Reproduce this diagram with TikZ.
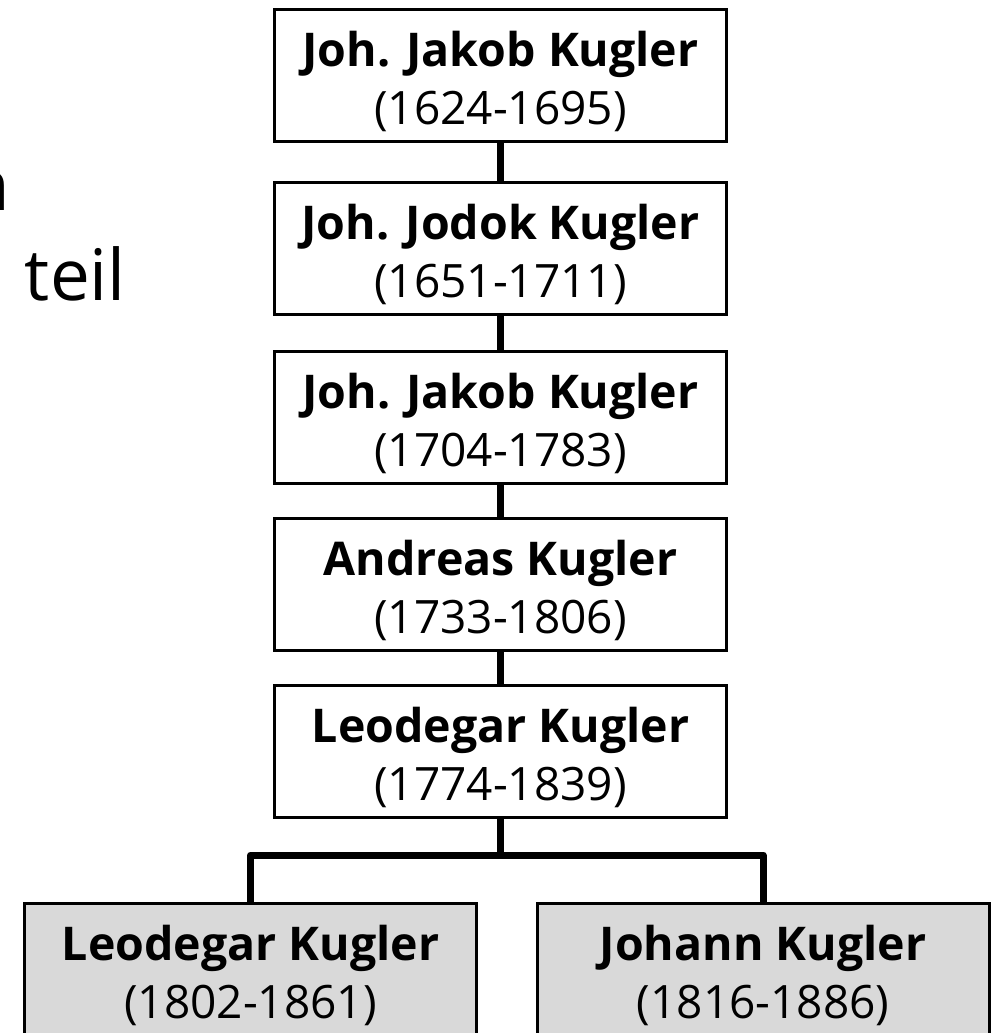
\documentclass[tikz,border=0pt]{standalone}
\usepackage{fontspec}
\setmainfont{Open Sans}
\tikzset{
  person/.style={draw=black, line width=3pt, minimum width=452pt, minimum height=132pt, inner sep=0pt, fill=white},
  child/.style={person, fill=childgray},
  namelbl/.style={anchor=base, inner sep=0pt, font=\fontsize{46.5}{56}\selectfont\bfseries},
  datelbl/.style={anchor=base, inner sep=0pt, font=\fontsize{46}{55}\selectfont},
  conn/.style={line width=7pt, line join=round},
  bgtext/.style={anchor=base east, inner sep=0pt, font=\fontsize{71}{85}\selectfont}
}
\definecolor{childgray}{HTML}{D9D9D9}
\begin{document}
\begin{tikzpicture}[x=1pt,y=-1pt]
\useasboundingbox (0,0) rectangle (997,1033);
% left text, cut off at the page edge as in the reference
\node[bgtext] (t1) at (10,210) {ihnen};
\node[bgtext] (t2) at (126,300) {zu teil};
% main line
\node[person] (b1) at (500.5,75.5) {};
\node[person] (b2) at (500.5,248.5) {};
\node[person] (b3) at (500.5,417.5) {};
\node[person] (b4) at (500.5,584.5) {};
\node[person] (b5) at (500.5,751) {};
\node[child] (b6) at (250.5,969.5) {};
\node[child] (b7) at (763,969.5) {};
% labels
\foreach \b/\n/\d in {b1/Joh. Jakob Kugler/(1624-1695), b2/Joh. Jodok Kugler/(1651-1711), b3/Joh. Jakob Kugler/(1704-1783), b4/Andreas Kugler/(1733-1806), b5/Leodegar Kugler/(1774-1839), b6/Leodegar Kugler/(1802-1861), b7/Johann Kugler/(1816-1886)}{
  \node[namelbl] (\b n) at ([yshift=9pt]\b.center) {\n};
  \node[datelbl] (\b d) at ([yshift=-49pt]\b.center) {\d};
}
% connectors
\draw[conn] (b1.south) -- (b2.north);
\draw[conn] (b2.south) -- (b3.north);
\draw[conn] (b3.south) -- (b4.north);
\draw[conn] (b4.south) -- (b5.north);
\coordinate (bar) at (500.5,855);
\draw[conn] (b5.south) -- (bar);
\draw[conn] (b6.north) |- (bar) -| (b7.north);
\end{tikzpicture}
\end{document}
